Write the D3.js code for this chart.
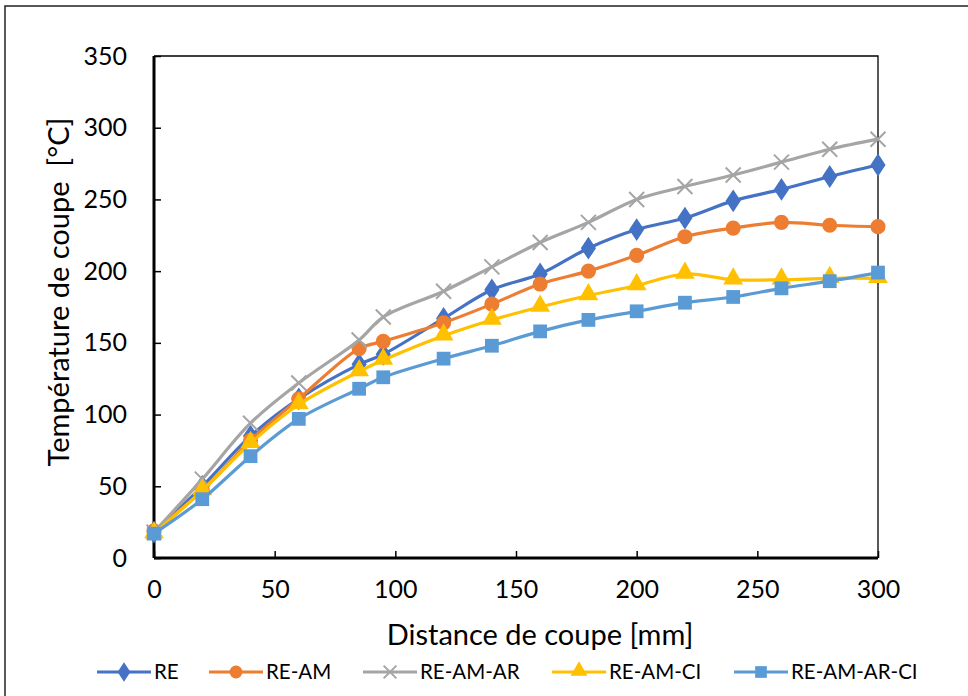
<!DOCTYPE html>
<html><head><meta charset="utf-8">
<script src="https://cdn.jsdelivr.net/npm/d3@7"></script>
<style>html,body{margin:0;padding:0;background:#fff;overflow:hidden}</style>
</head><body>
<script>
const distances = [0, 20, 40, 60, 85, 95, 120, 140, 160, 180, 200, 220, 240, 260, 280, 300];
const seriesNames = ["RE", "RE-AM", "RE-AM-AR", "RE-AM-CI", "RE-AM-AR-CI"];
const valuesRE = [18, 50, 85, 111, 135, 142, 167, 187, 198, 216, 229, 237, 249, 257, 266, 274];
const valuesREAM = [19, 47, 82, 111, 146, 151, 164, 177, 191, 200, 211, 224, 230, 234, 232, 231];
const valuesREAMAR = [18, 55, 94, 122, 152, 168, 186, 203, 220, 234, 250, 259, 267, 276, 285, 292];
const valuesREAMCI = [17, 47, 80, 107, 130, 138, 155, 166, 175, 183, 190, 198, 194, 194, 195, 195];
const valuesREAMARCI = [17, 41, 71, 97, 118, 126, 139, 148, 158, 166, 172, 178, 182, 188, 193, 199];
const xTicks = [0, 50, 100, 150, 200, 250, 300];
const yTicks = [0, 50, 100, 150, 200, 250, 300, 350];
const xTitle = "Distance de coupe [mm]";
const yTitle = "Température de coupe  [°C]";

const colors = ["#4472C4", "#ED7D31", "#A5A5A5", "#FFC000", "#5B9BD5"];
const symbols = [d3.symbolDiamond, d3.symbolCircle, d3.symbolCross, d3.symbolTriangle, d3.symbolSquare];
const allValues = [valuesRE, valuesREAM, valuesREAMAR, valuesREAMCI, valuesREAMARCI];

const W = 968, H = 696;
const font = "Lato, 'Open Sans', sans-serif";
const svg = d3.select("body").append("svg").attr("width", W).attr("height", H)
  .style("font-family", font);

svg.append("rect").attr("x", 5).attr("y", 6).attr("width", 1000).attr("height", 720)
  .attr("fill", "#fff").attr("stroke", "#222").attr("stroke-width", 1.5);

const L = 154, R = 878, T = 56, B = 558;
const x = d3.scaleLinear().domain([0, 300]).range([L, R]);
const y = d3.scaleLinear().domain([0, 350]).range([B, T]);

// plot frame (top/right)
svg.append("path").attr("d", `M${L},${T}H${R}V${B}`).attr("fill", "none")
  .attr("stroke", "#000").attr("stroke-width", 1.3);

// axes
const yAxis = svg.append("g").attr("transform", `translate(${L},0)`)
  .call(d3.axisLeft(y).tickValues(yTicks).tickSize(-7).tickPadding(27));
const xAxis = svg.append("g").attr("transform", `translate(0,${B})`)
  .call(d3.axisBottom(x).tickValues(xTicks).tickSize(-7).tickPadding(22));
[yAxis, xAxis].forEach(g => {
  g.select(".domain").attr("stroke", "#000").attr("stroke-width", 3);
  g.selectAll(".tick line").attr("stroke", "#000").attr("stroke-width", 1.5);
  g.selectAll(".tick text").attr("fill", "#000").style("font-size", "25px").style("font-family", font);
});
yAxis.select(".domain").attr("d", `M0,${T}V${B}`);
xAxis.select(".domain").attr("d", `M${L},0H${R}`);
yAxis.selectAll(".tick text").attr("x", -27);

// titles
svg.append("text").attr("x", 540).attr("y", 645).attr("text-anchor", "middle")
  .style("font-size", "29px").attr("fill", "#000").text(xTitle);
svg.append("text").attr("transform", "translate(69,292) rotate(-90)").attr("text-anchor", "middle")
  .style("font-size", "29px").style("white-space", "pre").attr("fill", "#000").text(yTitle);

// series
const line = d3.line().x((d, i) => x(distances[i])).y(d => y(d)).curve(d3.curveCatmullRom.alpha(0.5));
const markerSize = [150, 180, 130, 170, 190];
function drawMarker(g, k, cx, cy, scale = 1) {
  if (k === 2) {
    const s = 7.5 * scale;
    g.append("path").attr("d", `M${cx - s},${cy - s}L${cx + s},${cy + s}M${cx - s},${cy + s}L${cx + s},${cy - s}`)
      .attr("stroke", colors[k]).attr("stroke-width", 2).attr("fill", "none");
  } else {
    const sz = markerSize[k] * scale * scale;
    const p = d3.symbol().type(symbols[k]).size(sz)();
    const dy = k === 3 ? -1 : 0;
    g.append("path").attr("d", p).attr("transform", `translate(${cx},${cy + dy})` + (k === 0 ? " scale(1.15,1)" : ""))
      .attr("fill", colors[k]);
  }
}
allValues.forEach((vals, k) => {
  const g = svg.append("g");
  g.append("path").attr("d", line(vals)).attr("fill", "none")
    .attr("stroke", colors[k]).attr("stroke-width", 3.2).attr("stroke-linejoin", "round");
  vals.forEach((v, i) => drawMarker(g, k, x(distances[i]), y(v)));
});

// legend
const legendX = [97, 209, 363, 552, 734];
const ly = 672;
seriesNames.forEach((name, k) => {
  const g = svg.append("g");
  const x0 = legendX[k];
  g.append("line").attr("x1", x0).attr("x2", x0 + 54).attr("y1", ly).attr("y2", ly)
    .attr("stroke", colors[k]).attr("stroke-width", 3.2);
  drawMarker(g, k, x0 + 27, ly, 0.85);
  g.append("text").attr("x", x0 + 57).attr("y", ly + 7).style("font-size", "20.5px")
    .attr("fill", "#000").text(name);
});
</script>
</body></html>
